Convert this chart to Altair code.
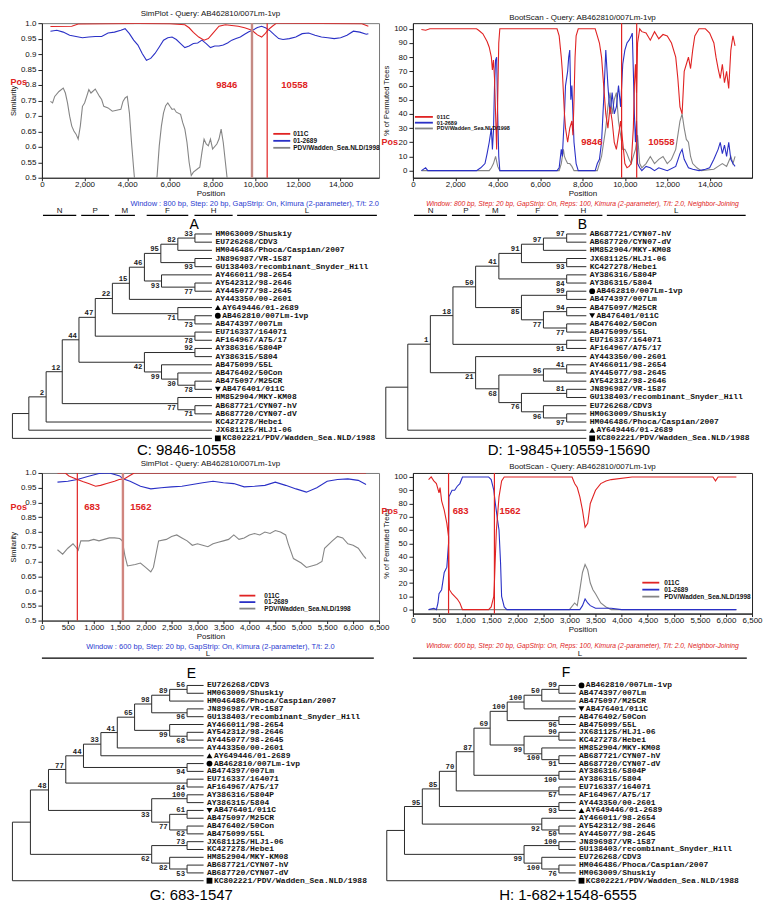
import altair as alt
import pandas as pd

FONT = "Liberation Sans"
MONO = "Liberation Mono"
RED = "#e02323"
BLUE = "#2a30c6"
GRAY = "#858585"
WIN_BLUE = "#2a3ad0"

SERIES = ["011C", "01-2689", "PDV/Wadden_Sea.NLD/1998"]

QUERY = "AB462810/007Lm-1vp"

# ---------------- genome maps ----------------
GENE_NAMES = ["N", "P", "M", "F", "H", "L"]
GENE_START = [50, 1840, 3420, 4910, 7150, 9150]
GENE_END = [1610, 3150, 4360, 6860, 8940, 15700]
L_NAMES = ["L"]
L_START = [0]
L_END = [6400]

# ---------------- axis ticks ----------------
TOP_XTICKS = [0, 2000, 4000, 6000, 8000, 10000, 12000, 14000]
BOT_XTICKS = [0, 500, 1000, 1500, 2000, 2500, 3000, 3500, 4000, 4500, 5000, 5500, 6000, 6500]
SIM_YTICKS = [0.5, 0.55, 0.6, 0.65, 0.7, 0.75, 0.8, 0.85, 0.9, 0.95, 1.0]
BOOT_YTICKS = [0, 10, 20, 30, 40, 50, 60, 70, 80, 90, 100]

# ---------------- top-left SimPlot ----------------
TL_BREAKS = [9846, 10558]
TL_RED_X = [400, 1400, 1700, 3000, 4500, 6000, 6700, 6900, 7100, 7350, 7600, 7800, 8000, 8300, 8600, 9200, 9500, 9846, 10100, 10300, 10450, 10600, 10800, 11000, 13000, 15000, 15300]
TL_RED_Y = [0.989, 0.99, 0.997, 0.998, 0.999, 0.998, 0.995, 0.985, 0.97, 0.955, 0.945, 0.95, 0.966, 0.99, 0.995, 0.99, 0.985, 0.977, 0.962, 0.955, 0.965, 0.978, 0.99, 1.0, 0.999, 0.998, 0.99]
TL_BLUE_X = [400, 700, 1000, 1300, 1600, 1900, 2200, 2500, 2800, 3100, 3400, 3700, 3900, 4100, 4300, 4500, 4700, 4900, 5100, 5300, 5500, 5700, 5900, 6100, 6300, 6500, 6700, 6900, 7100, 7300, 7500, 7700, 7900, 8100, 8300, 8500, 8700, 8900, 9100, 9300, 9500, 9700, 9900, 10100, 10300, 10500, 10700, 10900, 11100, 11300, 11600, 11900, 12200, 12500, 12800, 13100, 13400, 13700, 14000, 14300, 14600, 14900, 15200, 15300]
TL_BLUE_Y = [0.974, 0.977, 0.971, 0.961, 0.957, 0.953, 0.955, 0.957, 0.957, 0.968, 0.971, 0.977, 0.982, 0.966, 0.945, 0.929, 0.902, 0.88, 0.886, 0.902, 0.923, 0.945, 0.953, 0.955, 0.947, 0.934, 0.921, 0.926, 0.934, 0.936, 0.945, 0.934, 0.921, 0.926, 0.926, 0.929, 0.936, 0.945, 0.95, 0.955, 0.964, 0.972, 0.978, 0.986, 0.99, 0.984, 0.975, 0.962, 0.95, 0.947, 0.95, 0.955, 0.966, 0.968, 0.961, 0.955, 0.953, 0.95, 0.953, 0.961, 0.974, 0.971, 0.964, 0.966]
TL_GRAY_X = [400, 500, 600, 800, 1000, 1100, 1200, 1300, 1400, 1500, 1600, 1700, 1800, 1900, 2000, 2100, 2200, 2300, 2500, 2700, 2800, 2900, 3100, 3300, 3500, 3700, 3800, 3900, 4000, 4100, 4200, 4300, 4400, 5300, 5400, 5500, 5600, 5700, 5800, 5900, 6000, 6100, 6200, 6300, 6500, 6600, 6700, 6800, 6900, 7000, 7100, 7300, 7400, 7500, 7600, 7700, 7800, 7900, 8000, 8200, 8300, 8400, 8500, 8600, 8700, 8800, 15300]
TL_GRAY_Y = [0.747, 0.742, 0.763, 0.779, 0.79, 0.774, 0.742, 0.699, 0.667, 0.651, 0.641, 0.625, 0.667, 0.731, 0.742, 0.763, 0.785, 0.774, 0.787, 0.763, 0.753, 0.731, 0.726, 0.715, 0.718, 0.721, 0.747, 0.758, 0.763, 0.71, 0.614, 0.529, 0.45, 0.45, 0.507, 0.603, 0.667, 0.71, 0.733, 0.742, 0.731, 0.721, 0.723, 0.712, 0.705, 0.678, 0.657, 0.614, 0.55, 0.507, 0.518, 0.529, 0.534, 0.582, 0.625, 0.609, 0.603, 0.625, 0.593, 0.609, 0.625, 0.657, 0.614, 0.55, 0.486, 0.45, 0.45]

# ---------------- top-right BootScan ----------------
TR_BREAKS = [9846, 10558]
TR_RED_X = [400, 600, 800, 3000, 3100, 3300, 3500, 3600, 3700, 3750, 3800, 3850, 3900, 3950, 4000, 4050, 4100, 6800, 6900, 7000, 7050, 7100, 7150, 7200, 7300, 7400, 7500, 7550, 7600, 7650, 7700, 7800, 8600, 8700, 8800, 8900, 9000, 9100, 9200, 9300, 9400, 9500, 9600, 9700, 9800, 9900, 10000, 10100, 10200, 10300, 10400, 10450, 10500, 10550, 10600, 10700, 10800, 11000, 11200, 11400, 11600, 11800, 12000, 12200, 12400, 12500, 12600, 12700, 12750, 12800, 12900, 13000, 13100, 13200, 13300, 13500, 13800, 14000, 14200, 14300, 14400, 14500, 14600, 14700, 14800, 14900, 15000, 15100, 15200]
TR_RED_Y = [99.5, 99, 100, 100, 99, 96.5, 91, 87, 80, 71, 78, 65, 40, 15, 50, 90, 100, 100, 95, 80, 70, 55, 40, 30, 20, 30, 35, 25, 50, 80, 95, 100, 100, 95, 90, 80, 60, 40, 30, 45, 35, 20, 15, 25, 35, 20, 5, 2, 3, 5, 30, 60, 75, 55, 90, 100, 98, 97, 92, 98, 93, 96, 95, 90, 80, 65, 45, 40, 55, 70, 75, 80, 72, 85, 95, 100, 100, 97, 90, 80, 72, 65, 75, 62, 70, 58, 85, 95, 88]
TR_BLUE_X = [400, 600, 700, 3000, 3200, 3400, 3500, 3600, 3700, 3750, 3800, 3850, 3900, 3950, 4000, 4050, 4100, 6800, 6900, 7000, 7050, 7100, 7150, 7200, 7300, 7350, 7400, 7450, 7500, 7550, 7600, 7700, 7800, 8600, 8700, 8800, 8900, 9000, 9100, 9200, 9300, 9400, 9500, 9600, 9700, 9800, 9900, 10000, 10100, 10200, 10300, 10350, 10400, 10450, 10500, 10550, 10600, 10700, 10800, 11000, 11200, 11400, 11600, 11800, 12000, 12400, 12600, 12700, 12800, 12900, 13000, 13200, 13500, 13800, 14000, 14200, 14400, 14500, 14600, 14700, 14800, 14900, 15000, 15100, 15200]
TR_BLUE_Y = [0, 2, 0, 0, 2, 5, 12, 20, 30, 15, 28, 60, 78, 80, 40, 10, 0, 0, 2, 15, 10, 25, 40, 60, 70, 80, 85, 50, 60, 40, 20, 5, 0, 0, 5, 8, 20, 50, 85, 60, 40, 55, 40, 45, 60, 45, 75, 85, 90, 92, 95, 97, 70, 40, 20, 35, 5, 2, 0, 3, 2, 0, 2, 1, 0, 3, 12, 15, 8, 5, 2, 1, 0, 1, 2, 8, 15, 20, 12, 18, 10, 20, 8, 5, 3]
TR_GRAY_X = [400, 3600, 3700, 3800, 3900, 4000, 4100, 6900, 7000, 7100, 7150, 7200, 7300, 7400, 7500, 7600, 8700, 8800, 8900, 9000, 9100, 9200, 9300, 9400, 9500, 9600, 9700, 9800, 9900, 10000, 10100, 10200, 10300, 10400, 10500, 10600, 10700, 10800, 11000, 11200, 11400, 11600, 11800, 12000, 12200, 12400, 12500, 12600, 12700, 12800, 12900, 13000, 13100, 13200, 13400, 13600, 14200, 14400, 14600, 14800, 15000, 15100, 15200]
TR_GRAY_Y = [0, 0, 2, 5, 10, 3, 0, 0, 5, 15, 10, 8, 5, 5, 3, 0, 0, 5, 10, 20, 30, 45, 55, 40, 50, 55, 35, 25, 15, 15, 12, 8, 5, 10, 15, 25, 5, 2, 5, 10, 5, 8, 10, 5, 8, 15, 25, 35, 40, 30, 22, 20, 10, 5, 2, 0, 1, 3, 5, 3, 10, 5, 10]

# ---------------- bottom-left SimPlot ----------------
BL_BREAKS = [683, 1562]
BL_RED_X = [300, 450, 520, 600, 683, 800, 900, 1035, 1130, 1250, 1400, 1490, 1585, 1680, 1780, 3000, 4500, 6000, 6250]
BL_RED_Y = [1.0, 1.0, 0.99, 0.984, 0.978, 0.97, 0.964, 0.955, 0.958, 0.964, 0.972, 0.978, 0.98, 0.99, 1.0, 1.0, 1.0, 1.0, 1.0]
BL_BLUE_X = [300, 500, 683, 900, 1100, 1300, 1500, 1562, 1700, 1900, 2100, 2300, 2500, 2700, 2900, 3100, 3300, 3500, 3700, 3900, 4100, 4300, 4500, 4700, 4900, 5100, 5300, 5500, 5700, 5900, 6100, 6250]
BL_BLUE_Y = [0.969, 0.972, 0.978, 0.989, 0.998, 1.0, 0.99, 0.98, 0.972, 0.955, 0.946, 0.95, 0.953, 0.955, 0.961, 0.967, 0.972, 0.967, 0.964, 0.953, 0.955, 0.958, 0.969, 0.958, 0.946, 0.935, 0.95, 0.972, 0.978, 0.98, 0.975, 0.961]
BL_GRAY_X = [300, 400, 500, 600, 650, 700, 750, 900, 1000, 1100, 1200, 1300, 1400, 1500, 1550, 1600, 1650, 1800, 1900, 2000, 2100, 2150, 2250, 2400, 2500, 2600, 2700, 2800, 2900, 3000, 3100, 3200, 3300, 3400, 3500, 3600, 3700, 3800, 3900, 4000, 4100, 4200, 4300, 4400, 4500, 4600, 4700, 4750, 4850, 5000, 5100, 5200, 5300, 5400, 5450, 5600, 5700, 5800, 5900, 6000, 6100, 6200, 6250]
BL_GRAY_Y = [0.74, 0.725, 0.745, 0.76, 0.75, 0.738, 0.77, 0.77, 0.775, 0.77, 0.775, 0.78, 0.78, 0.778, 0.77, 0.72, 0.685, 0.69, 0.695, 0.68, 0.665, 0.68, 0.77, 0.775, 0.785, 0.79, 0.78, 0.77, 0.755, 0.76, 0.755, 0.75, 0.76, 0.765, 0.77, 0.775, 0.79, 0.775, 0.78, 0.79, 0.795, 0.79, 0.8, 0.795, 0.805, 0.8, 0.79, 0.76, 0.71, 0.695, 0.68, 0.685, 0.69, 0.7, 0.745, 0.77, 0.785, 0.78, 0.76, 0.755, 0.745, 0.72, 0.71]

# ---------------- bottom-right BootScan ----------------
BR_BREAKS = [683, 1562]
BR_RED_X = [300, 350, 400, 450, 500, 520, 550, 600, 650, 683, 690, 700, 750, 800, 850, 900, 950, 1450, 1500, 1550, 1560, 1580, 1600, 1650, 1700, 1750, 3050, 3100, 3150, 3200, 3250, 3300, 3350, 3400, 3500, 3600, 3700, 3800, 4200, 5750, 5800, 5850, 6000, 6200]
BR_RED_Y = [98, 100, 97, 95, 88, 92, 82, 75, 65, 55, 30, 15, 12, 10, 8, 5, 0, 0, 2, 10, 18, 40, 60, 85, 97, 100, 100, 95, 92, 85, 75, 62, 65, 80, 90, 95, 97, 98, 100, 100, 97, 100, 100, 100]
BR_BLUE_X = [300, 400, 450, 480, 500, 550, 600, 650, 683, 690, 750, 800, 850, 900, 950, 1450, 1500, 1550, 1580, 1620, 1650, 1680, 1700, 1750, 1800, 3200, 3250, 3300, 3350, 3400, 3500, 3800, 4000, 6200]
BR_BLUE_Y = [0, 1, 0, 5, 12, 15, 28, 32, 50, 85, 90, 90, 93, 95, 100, 100, 98, 90, 80, 68, 60, 35, 10, 2, 0, 0, 3, 8, 5, 3, 1, 1, 0, 0]
BR_GRAY_X = [300, 3000, 3100, 3150, 3200, 3250, 3300, 3350, 3400, 3450, 3500, 3600, 3700, 3800, 6200]
BR_GRAY_Y = [0, 0, 5, 3, 15, 28, 34, 30, 20, 15, 12, 5, 2, 0, 0]

# ---------------- trees (label@node-depth) ----------------
MARKED = {
    "AY649446/01-2689": "triangle-up",
    "AB462810/007Lm-1vp": "circle",
    "AB476401/011C": "triangle-down",
    "KC802221/PDV/Wadden_Sea.NLD/1988": "square",
}

TREE_C = (
    "((((((((((("
    "(HM063009/Shuskiy,EU726268/CDV3)33@190.7"
    ",HM046486/Phoca/Caspian/2007)82@173.3"
    ",(JN896987/VR-1587,GU138403/recombinant_Snyder_Hill)93@190.7)95@156"
    ",(AY466011/98-2654,(AY542312/98-2646,AY445077/98-2645)77@190.7)93@156.7)46@139.3"
    ",AY443350/00-2601)15@124"
    ",(AY649446/01-2689,(AB462810/007Lm-1vp,AB474397/007Lm)73@190.7)71@173.3)22@106.7"
    ",(EU716337/164071,AF164967/A75/17)78@190.7)47@89.3"
    ",((AY386316/5804P,AY386315/5804)92@190.7,(AB475099/55L,(AB476402/50Con,(AB475097/M25CR,AB476401/011C)78@190.7)30@173.3)99@156.7)42@139.3)44@72.7"
    ",(HM852904/MKY-KM08,(AB687721/CYN07-hV,AB687720/CYN07-dV)71@190.7)77@173.3)12@55.7"
    ",KC427278/Hebei)2@39.3"
    ",JX681125/HLJ1-06)@21.7"
    ",KC802221/PDV/Wadden_Sea.NLD/1988)@5"
)

TREE_D = (
    "(((((((("
    "(AB687721/CYN07-hV,AB687720/CYN07-dV)97@190.7"
    ",HM852904/MKY-KM08)97@166.7"
    ",(JX681125/HLJ1-06,KC427278/Hebei)93@190.7)91@144"
    ",(AY386316/5804P,AY386315/5804)84@190.7)41@120.7"
    ",((AB462810/007Lm-1vp,AB474397/007Lm)99@190.7,((AB475097/M25CR,AB476401/011C)94@190.7,(AB476402/50Con,AB475099/55L)77@190.7)77@166.7)85@144)50@96.7"
    ",(EU716337/164071,AF164967/A75/17)91@190.7)18@73.3"
    ",(AY443350/00-2601,(((AY466011/98-2654,AY445077/98-2645)41@190.7,AY542312/98-2646)96@166.7,((JN896987/VR-1587,GU138403/recombinant_Snyder_Hill)81@190.7,(EU726268/CDV3,(HM063009/Shuskiy,HM046486/Phoca/Caspian/2007)97@190.7)96@166.7)76@144)68@120.7)21@96.7)1@50"
    ",AY649446/01-2689)@26.7"
    ",KC802221/PDV/Wadden_Sea.NLD/1988)@4"
)

TREE_G = (
    "(((((((((("
    "(EU726268/CDV3,HM063009/Shuskiy)56@182.7"
    ",HM046486/Phoca/Caspian/2007)89@165"
    ",(JN896987/VR-1587,GU138403/recombinant_Snyder_Hill)96@182.7)98@146.7"
    ",(AY466011/98-2654,(AY542312/98-2646,AY445077/98-2645)68@182.7)99@165)65@129.3"
    ",AY443350/00-2601)41@111.7"
    ",AY649446/01-2689)33@95"
    ",(AB462810/007Lm-1vp,AB474397/007Lm)94@182.7)44@77.3"
    ",(EU716337/164071,AF164967/A75/17)84@182.7)77@59.3"
    ",((AY386316/5804P,AY386315/5804)100@182.7,((AB476401/011C,AB475097/M25CR)61@182.7,(AB476402/50Con,AB475099/55L)62@182.7)77@165)33@146.7)48@41.7"
    ",((JX681125/HLJ1-06,KC427278/Hebei)73@182.7,(HM852904/MKY-KM08,(AB687721/CYN07-hV,AB687720/CYN07-dV)53@182.7)82@165)62@146.7)@23.3"
    ",KC802221/PDV/Wadden_Sea.NLD/1988)@5"
)

TREE_H = (
    "(((((((((("
    "(AB462810/007Lm-1vp,AB474397/007Lm)99@182.7"
    ",AB475097/M25CR)50@165"
    ",AB476401/011C)100@146.7"
    ",(AB476402/50Con,AB475099/55L)96@182.7)100@129.3"
    ",((JX681125/HLJ1-06,KC427278/Hebei)90@182.7,(HM852904/MKY-KM08,(AB687721/CYN07-hV,AB687720/CYN07-dV)91@182.7)100@165)99@146.7)69@111.7"
    ",(AY386316/5804P,AY386315/5804)100@182.7)87@95"
    ",(EU716337/164071,AF164967/A75/17)57@182.7)70@76.7"
    ",(AY443350/00-2601,AY649446/01-2689)93@182.7)85@59.3"
    ",(AY466011/98-2654,(AY542312/98-2646,AY445077/98-2645)50@182.7)92@165)95@41.7"
    ",((JN896987/VR-1587,GU138403/recombinant_Snyder_Hill)100@182.7,(EU726268/CDV3,(HM046486/Phoca/Caspian/2007,HM063009/Shuskiy)76@182.7)100@165)99@146.7)@23.3"
    ",KC802221/PDV/Wadden_Sea.NLD/1988)@5"
)


# ====================================================================
def parse_newick(s):
    pos = 0

    def node():
        nonlocal pos
        if s[pos] == "(":
            pos += 1
            kids = [node()]
            while s[pos] == ",":
                pos += 1
                kids.append(node())
            pos += 1
            j = pos
            while pos < len(s) and s[pos] not in ",)":
                pos += 1
            lab, x = s[j:pos].split("@")
            return {"kids": kids, "label": lab, "x": float(x)}
        j = pos
        while s[pos] not in ",)":
            pos += 1
        return s[j:pos]

    return node()


def tree_tables(newick, tip):
    root = parse_newick(newick)
    segs, boots, leaves, marks = [], [], [], []
    count = [0]

    def rec(n):
        if isinstance(n, str):
            y = count[0]
            count[0] += 1
            shape = MARKED.get(n)
            if shape:
                marks.append({"x": tip + 6, "y": y, "shape": shape})
                leaves.append({"x": tip + 10.5, "y": y, "t": n})
            else:
                leaves.append({"x": tip + 3.5, "y": y, "t": n})
            return tip, y
        pts = [rec(k) for k in n["kids"]]
        x = n["x"]
        ys = [p[1] for p in pts]
        segs.append({"x": x, "y": ys[0], "x2": x, "y2": ys[-1]})
        for idx, (k, (cx, cy)) in enumerate(zip(n["kids"], pts)):
            segs.append({"x": x, "y": cy, "x2": cx, "y2": cy})
            if isinstance(k, dict) and k["label"]:
                dy = -0.5 if idx == 0 else 0.58
                boots.append({"x": cx - 2, "y": cy + dy, "t": k["label"]})
        return x, (ys[0] + ys[-1]) / 2

    rec(root)
    return (pd.DataFrame(segs), pd.DataFrame(boots), pd.DataFrame(leaves), pd.DataFrame(marks))


def tree_chart(newick, tip, xdom, width, ydom, height, letter, letter_xy, caption, caption_xy):
    segs, boots, leaves, marks = tree_tables(newick, tip)
    xs = alt.Scale(domain=xdom, nice=False, zero=False)
    ys = alt.Scale(domain=ydom, nice=False, zero=False, reverse=True)

    def X(f):
        return alt.X(f, scale=xs, axis=None)

    def Y(f):
        return alt.Y(f, scale=ys, axis=None)

    lines = alt.Chart(segs).mark_rule(color="#2a2a2a", strokeWidth=1).encode(
        x=X("x:Q"), x2="x2:Q", y=Y("y:Q"), y2="y2:Q")
    btext = alt.Chart(boots).mark_text(align="right", baseline="middle", font=MONO,
                                       fontSize=7.3, fontWeight="bold", color="#222").encode(
        x=X("x:Q"), y=Y("y:Q"), text="t:N")
    ltext = alt.Chart(leaves).mark_text(align="left", baseline="middle", font=MONO,
                                        fontSize=8, fontWeight="bold", color="#111").encode(
        x=X("x:Q"), y=Y("y:Q"), text="t:N")
    shapes = ["triangle-up", "circle", "triangle-down", "square"]
    pts = alt.Chart(marks).mark_point(filled=True, color="black", opacity=1, size=34).encode(
        x=X("x:Q"), y=Y("y:Q"),
        shape=alt.Shape("shape:N", scale=alt.Scale(domain=shapes, range=shapes), legend=None))
    let = alt.Chart(pd.DataFrame({"x": [letter_xy[0]], "y": [letter_xy[1]], "t": [letter]})).mark_text(
        font=FONT, fontSize=14, baseline="middle", color="black").encode(x=X("x:Q"), y=Y("y:Q"), text="t:N")
    cap = alt.Chart(pd.DataFrame({"x": [caption_xy[0]], "y": [caption_xy[1]], "t": [caption]})).mark_text(
        font=FONT, fontSize=15, baseline="middle", color="black").encode(x=X("x:Q"), y=Y("y:Q"), text="t:N")
    return alt.layer(lines, btext, ltext, pts, let, cap).properties(
        width=width, height=height, view=alt.ViewBackground(stroke="transparent"))


def map_chart(names, starts, ends, xmax, width, wtext, wcolor, wsize, italic, anchor):
    df = pd.DataFrame({"g": names, "s": starts, "e": ends})
    xs = alt.Scale(domain=[0, xmax], nice=False, zero=False)
    ys = alt.Scale(domain=[0, 1], nice=False, zero=False)
    bars = alt.Chart(df).mark_rule(color="black", strokeWidth=1.2).encode(
        x=alt.X("s:Q", scale=xs, axis=None), x2="e:Q",
        y=alt.YDatum(0.05, scale=ys, axis=None))
    labs = alt.Chart(df).transform_calculate(mid="(datum.s + datum.e) / 2").mark_text(
        font=FONT, fontSize=8, baseline="middle", color="#111").encode(
        x=alt.X("mid:Q", scale=xs, axis=None), y=alt.YDatum(0.85, scale=ys, axis=None), text="g:N")
    title = alt.TitleParams(wtext, fontSize=wsize, color=wcolor, font=FONT,
                            fontStyle="italic" if italic else "normal", fontWeight="normal",
                            anchor=anchor, offset=0)
    return alt.layer(bars, labs).properties(width=width, height=5, title=title,
                                            view=alt.ViewBackground(stroke="transparent"))


def scan_chart(parts, title, xmax, xticks, ydom, yticks, ytitle, label_expr,
               width, height, breaks, break_styles, blabel_xs, blabel_y, pos_y,
               leg, frame):
    rows = []
    for name, xs_, ys_ in parts:
        for a, b in zip(xs_, ys_):
            rows.append({"pos": a, "val": b, "series": name})
    df = pd.DataFrame(rows)
    xsc = alt.Scale(domain=[0, xmax], nice=False, zero=False)
    ysc = alt.Scale(domain=ydom, nice=False, zero=False)
    csc = alt.Scale(domain=SERIES, range=[RED, BLUE, GRAY])
    xax = alt.Axis(values=xticks, format=",.0f", title="Position", labelFontSize=8, titleFontSize=8,
                   titleFontWeight="normal", tickSize=3, labelPadding=0, titlePadding=1,
                   grid=False, labelFlush=False, labelOverlap=False)
    ykw = dict(values=yticks, title=ytitle, labelFontSize=8, titleFontSize=7.5,
               titleFontWeight="normal", tickSize=4, labelPadding=2, titlePadding=3,
               grid=False, labelOverlap=False)
    if label_expr:
        ykw["labelExpr"] = label_expr
    yax = alt.Axis(**ykw)
    lines = alt.Chart(df).mark_line(strokeWidth=1.1, clip=True).encode(
        x=alt.X("pos:Q", scale=xsc, axis=xax),
        y=alt.Y("val:Q", scale=ysc, axis=yax),
        color=alt.Color("series:N", scale=csc, legend=None))
    layers = [lines]
    for b, (col, w) in zip(breaks, break_styles):
        layers.append(alt.Chart(pd.DataFrame({"pos": [b]})).mark_rule(color=col, strokeWidth=w).encode(
            x=alt.X("pos:Q", scale=xsc, axis=xax)))
    bl = pd.DataFrame({"pos": blabel_xs, "val": [blabel_y] * len(blabel_xs), "t": [str(b) for b in breaks]})
    layers.append(alt.Chart(bl).mark_text(color=RED, font=FONT, fontWeight="bold", fontSize=9.5).encode(
        x=alt.X("pos:Q", scale=xsc, axis=xax), y=alt.Y("val:Q", scale=ysc, axis=yax), text="t:N"))
    layers.append(alt.Chart(pd.DataFrame({"val": [pos_y]})).mark_text(
        text="Pos", align="right", baseline="middle", color=RED, font=FONT, fontWeight="bold",
        fontSize=9).encode(x=alt.value(-15), y=alt.Y("val:Q", scale=ysc, axis=yax)))
    # legend (line swatch + label per series)
    lx, ly, dy, llen, ldx, lfs = leg
    for i, name in enumerate(SERIES):
        one = pd.DataFrame({"series": [name]})
        layers.append(alt.Chart(one).mark_rule(strokeWidth=1.8).encode(
            x=alt.value(lx), x2=alt.value(lx + llen), y=alt.value(ly + i * dy),
            color=alt.Color("series:N", scale=csc, legend=None)))
        layers.append(alt.Chart(one).mark_text(align="left", baseline="middle", font=FONT,
                                               fontWeight="bold", fontSize=lfs, color="#111").encode(
            x=alt.value(lx + ldx), y=alt.value(ly + i * dy), text="series:N"))
    t = alt.TitleParams(title, fontSize=8, font=FONT, fontWeight="normal", offset=1, color="#111")
    return alt.layer(*layers).properties(width=width, height=height, title=t,
                                         view=alt.ViewBackground(stroke=frame))


SIM_EXPR = "datum.value >= 0.999 ? '1.0' : format(datum.value, '.2~f')"
W1, W2 = 338, 340
XD1, XD2 = [35, 378], [32, 382]

tl = scan_chart([(SERIES[2], TL_GRAY_X, TL_GRAY_Y), (SERIES[1], TL_BLUE_X, TL_BLUE_Y), (SERIES[0], TL_RED_X, TL_RED_Y)],
                "SimPlot - Query: " + QUERY, 15800, TOP_XTICKS, [0.5, 1.0], SIM_YTICKS, "Similarity", SIM_EXPR,
                W1, 155, TL_BREAKS, [("#c58a84", 2.4), (RED, 1.2)], [8660, 11840], 0.8, 0.81,
                (232, 111, 7, 17, 20, 6.5), "#777")
tr = scan_chart([(SERIES[2], TR_GRAY_X, TR_GRAY_Y), (SERIES[1], TR_BLUE_X, TR_BLUE_Y), (SERIES[0], TR_RED_X, TR_RED_Y)],
                "BootScan - Query: " + QUERY, 16000, TOP_XTICKS, [-5, 104], BOOT_YTICKS, "% of Permuted Trees", None,
                W2, 155, TR_BREAKS, [(RED, 1.2), (RED, 1.2)], [8443, 11725], 20, 20,
                (2, 94, 5.8, 18, 22, 5.5), "#222")
bl = scan_chart([(SERIES[2], BL_GRAY_X, BL_GRAY_Y), (SERIES[1], BL_BLUE_X, BL_BLUE_Y), (SERIES[0], BL_RED_X, BL_RED_Y)],
                "SimPlot - Query: " + QUERY, 6500, BOT_XTICKS, [0.5, 1.0], SIM_YTICKS, "Similarity", SIM_EXPR,
                W1, 148, BL_BREAKS, [(RED, 1.2), ("#d0857f", 2.4)], [970, 1908], 0.885, 0.885,
                (198, 123, 6.5, 16, 25, 6.5), "#777")
br = scan_chart([(SERIES[2], BR_GRAY_X, BR_GRAY_Y), (SERIES[1], BR_BLUE_X, BR_BLUE_Y), (SERIES[0], BR_RED_X, BR_RED_Y)],
                "BootScan - Query: " + QUERY, 6500, BOT_XTICKS, [-3, 103], BOOT_YTICKS, "% of Permuted Trees", None,
                W2, 141, BR_BREAKS, [(RED, 1.2), (RED, 1.2)], [915, 1861], 74, 74,
                (230, 110, 7, 17, 22, 6.5), "#222")

WIN_SIM800 = "Window : 800 bp, Step: 20 bp, GapStrip: On, Kimura (2-parameter), T/t: 2.0"
WIN_BOOT800 = "Window: 800 bp, Step: 20 bp, GapStrip: On, Reps: 100, Kimura (2-parameter), T/t: 2.0, Neighbor-Joining"
WIN_SIM600 = "Window : 600 bp, Step: 20 bp, GapStrip: On, Kimura (2-parameter), T/t: 2.0"
WIN_BOOT600 = "Window: 600 bp, Step: 20 bp, GapStrip: On, Reps: 100, Kimura (2-parameter), T/t: 2.0, Neighbor-Joining"

m1 = map_chart(GENE_NAMES, GENE_START, GENE_END, 15800, W1, WIN_SIM800, WIN_BLUE, 7.5, False, "end")
m2 = map_chart(GENE_NAMES, GENE_START, GENE_END, 16000, W2, WIN_BOOT800, RED, 6.8, True, "middle")
m3 = map_chart(L_NAMES, L_START, L_END, 6500, W1, WIN_SIM600, WIN_BLUE, 7.5, False, "middle")
m4 = map_chart(L_NAMES, L_START, L_END, 6500, W2, WIN_BOOT600, RED, 6.8, True, "middle")

TOP_YDOM = [-2.0, 27.4]
BOT_YDOM = [-3.2, 27.7]
tc = tree_chart(TREE_C, 208, XD1, W1, TOP_YDOM, 241, "A", (190, -1.13), "C: 9846-10558", (182, 26.4))
td = tree_chart(TREE_D, 211, XD2, W2, TOP_YDOM, 241, "B", (207, -1.15), "D: 1-9845+10559-15690", (193, 26.4))
tg = tree_chart(TREE_G, 199.5, XD1, W1, BOT_YDOM, 242, "E", (187, -1.5), "G: 683-1547", (187, 26.8))
th = tree_chart(TREE_H, 200, XD2, W2, BOT_YDOM, 242, "F", (190, -1.6), "H: 1-682+1548-6555", (192, 26.8))

chart = alt.concat(
    tl, tr, m1, m2, tc, td, bl, br, m3, m4, tg, th,
    columns=2, spacing={"row": 0, "column": -10}, align="each",
).resolve_scale(color="independent", shape="independent").properties(
    padding=0).configure(font=FONT).configure_axis(
    labelFont=FONT, titleFont=FONT, labelColor="#111", titleColor="#111",
    tickColor="#222", domainColor="#222"
).configure_view(stroke="#444")

chart.save("out.html", embed_options={"renderer": "svg", "actions": False})
